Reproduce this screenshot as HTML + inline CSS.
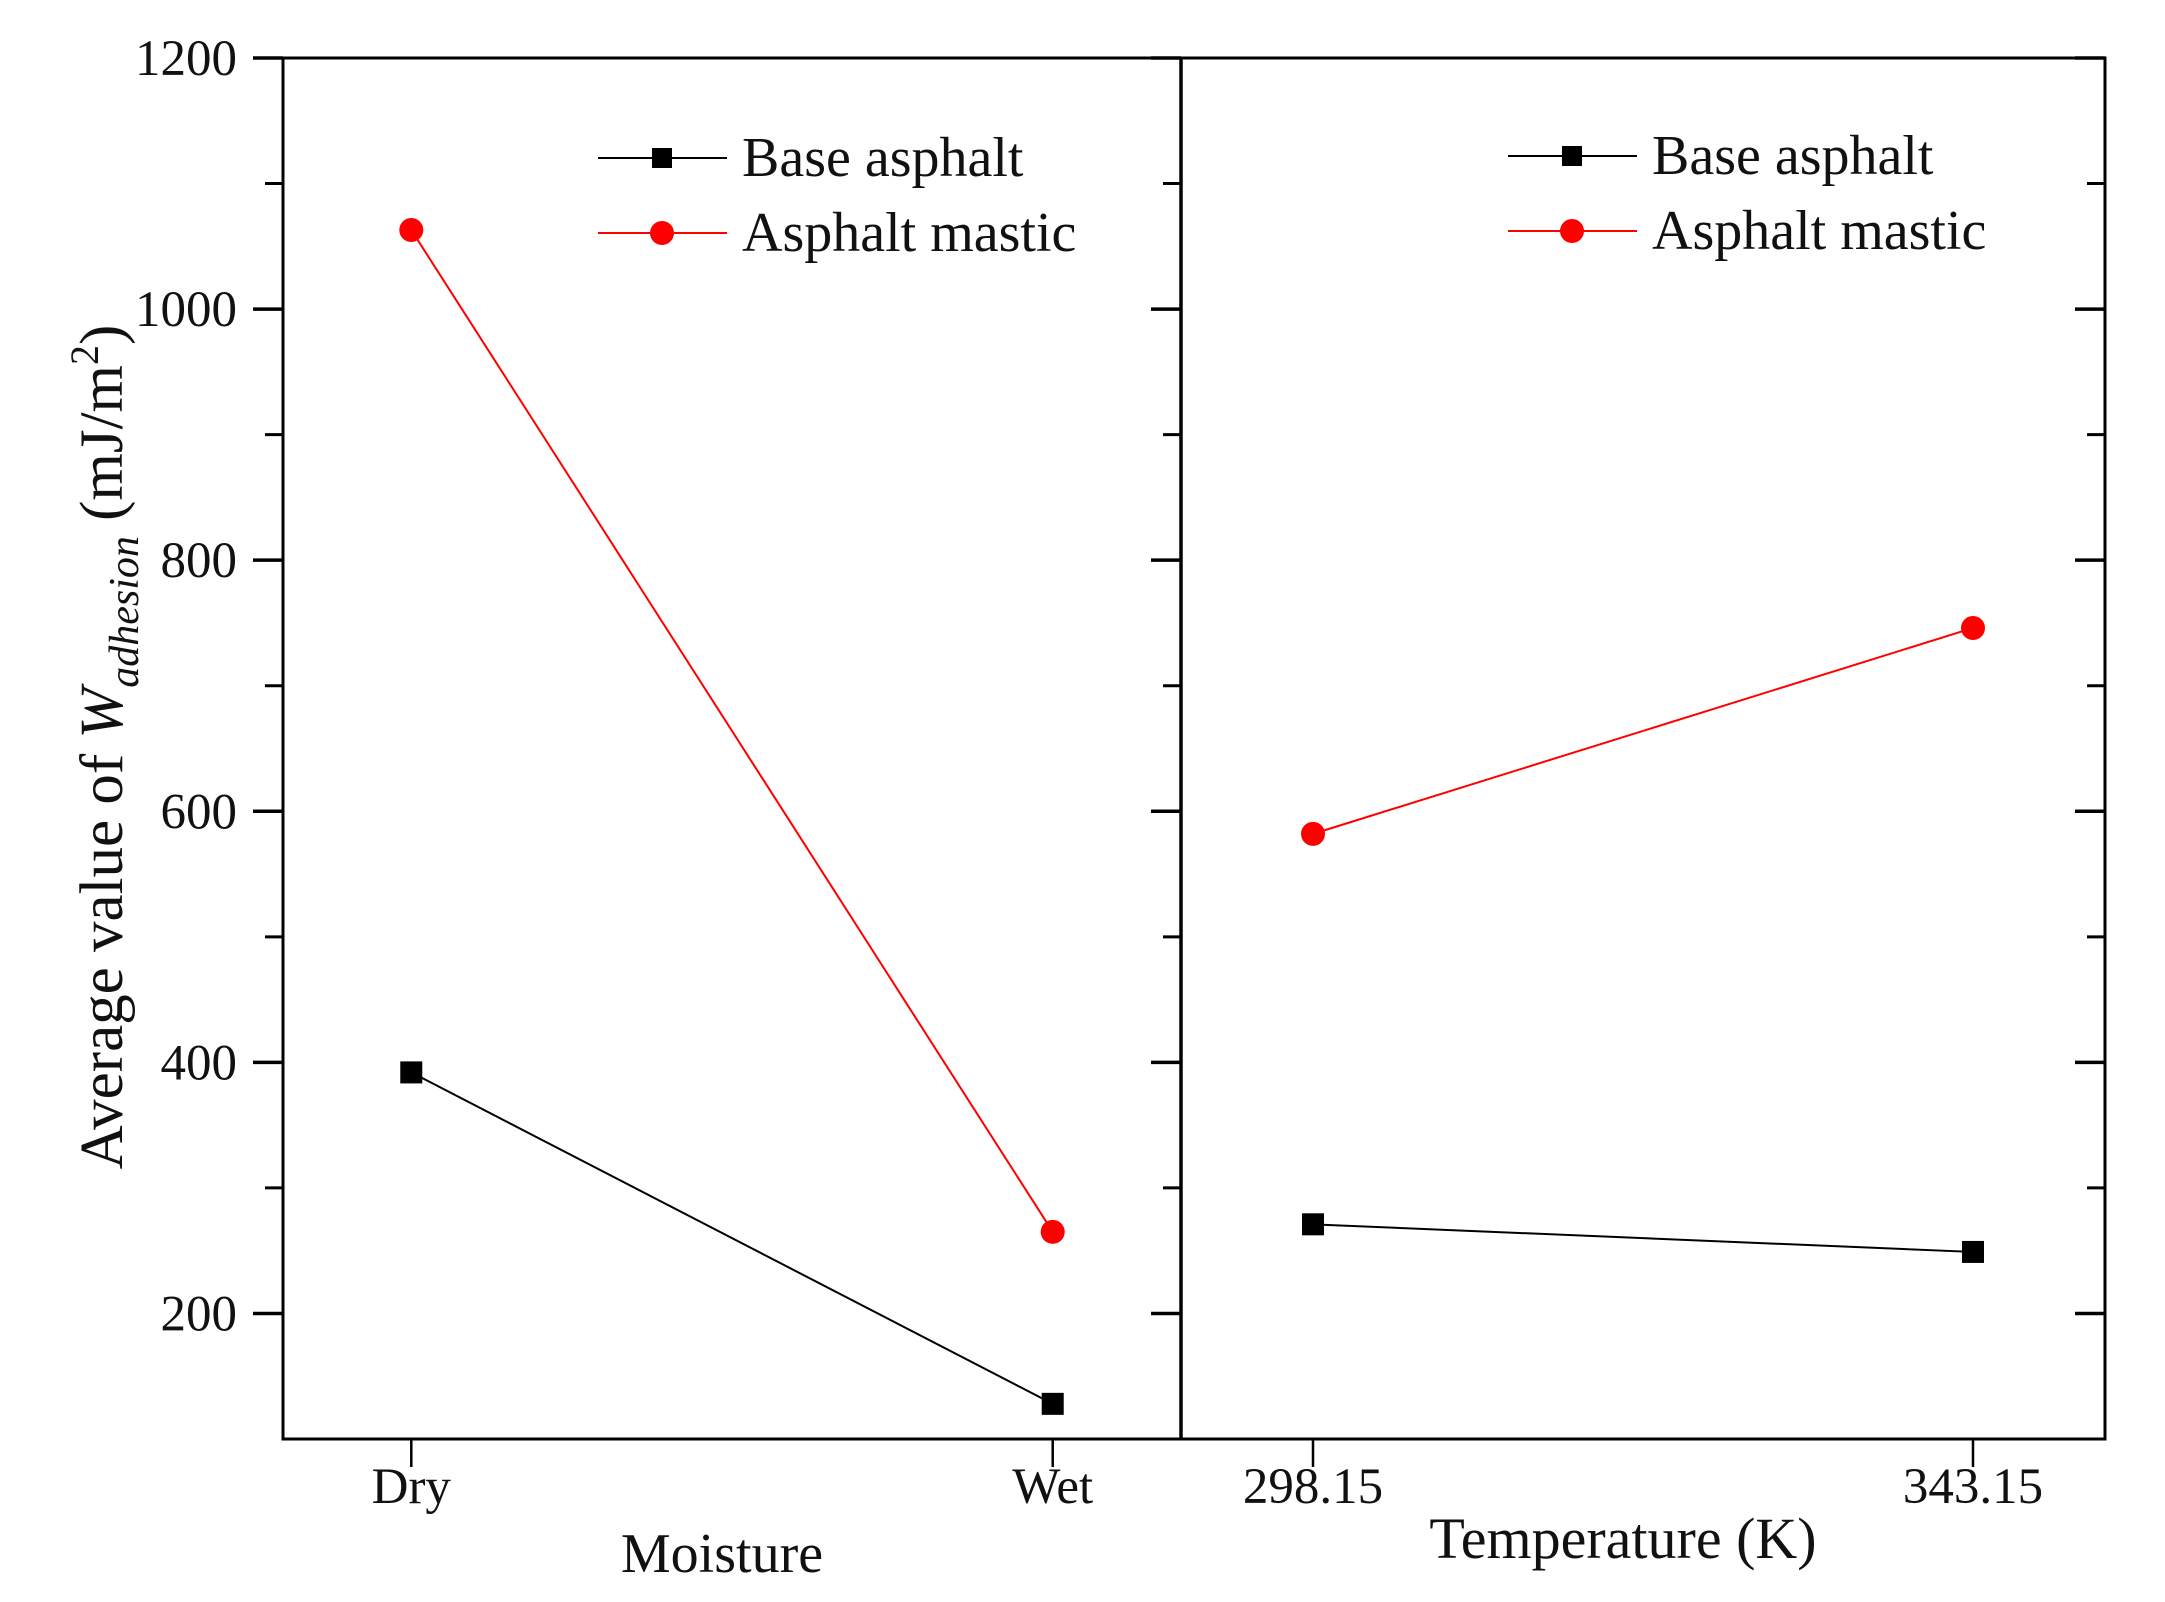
<!DOCTYPE html>
<html><head><meta charset="utf-8"><style>
html,body{margin:0;padding:0;background:#fff}
svg{display:block;font-family:"Liberation Serif",serif}
</style></head><body>
<svg id="chart" width="2165" height="1602" viewBox="0 0 2165 1602" xmlns="http://www.w3.org/2000/svg">
<g id="axes"></g>
<g id="marks"></g>
<g id="legends"></g>
<text transform="translate(122,747) rotate(-90)" text-anchor="middle" font-size="61" fill="#111">Average value of <tspan font-style="italic">W</tspan><tspan font-style="italic" font-size="42" dy="16">adhesion</tspan><tspan dy="-16"> (mJ/m</tspan><tspan font-size="40" dy="-24">2</tspan><tspan dy="24">)</tspan></text>
<text x="722" y="1572" text-anchor="middle" font-size="56" fill="#111">Moisture</text>
<text x="1623" y="1558" text-anchor="middle" font-size="58" fill="#111">Temperature (K)</text>
</svg>
<script>
const moistureCats = ["Dry", "Wet"];
const tempCats = ["298.15", "343.15"];
const baseMoisture = [392, 128];
const masticMoisture = [1063, 265];
const baseTemp = [271, 249];
const masticTemp = [582, 746];
const yTicks = [200, 400, 600, 800, 1000, 1200];
const yMinor = [300, 500, 700, 900, 1100];

const NS = "http://www.w3.org/2000/svg";
const plotTop = 58, plotBottom = 1439, yMin = 100, yMax = 1200;
const leftX = 283, divX = 1181, rightX = 2105;
const y = v => plotBottom - (v - yMin) / (yMax - yMin) * (plotBottom - plotTop);
const panels = [
  {x0: leftX, x1: divX, cats: moistureCats, base: baseMoisture, mastic: masticMoisture, name: "moisture"},
  {x0: divX, x1: rightX, cats: tempCats, base: baseTemp, mastic: masticTemp, name: "temperature"}
];
panels.forEach(p => { p.x = i => p.x0 + (i + 0.2) / 1.4 * (p.x1 - p.x0); });

function el(tag, attrs, parent) {
  const e = document.createElementNS(NS, tag);
  for (const k in attrs) e.setAttribute(k, attrs[k]);
  parent.appendChild(e);
  return e;
}
const axesG = document.getElementById("axes");
const marksG = document.getElementById("marks");
const legendsG = document.getElementById("legends");

const frame = el("rect", {x: leftX, y: plotTop, width: rightX - leftX, height: plotBottom - plotTop, fill: "none", stroke: "#000", "stroke-width": 3}, axesG);


const div = el("line", {x1: divX, x2: divX, y1: plotTop, y2: plotBottom, stroke: "#000", "stroke-width": 3.5}, axesG);



[leftX, divX, rightX].forEach(ax => {
  yTicks.forEach(v => {
    const t = el("line", {x1: ax, x2: ax - 30, y1: y(v), y2: y(v), stroke: "#000", "stroke-width": 3.5}, axesG);
    
    
  });
  yMinor.forEach(v => {
    const t = el("line", {x1: ax, x2: ax - 18, y1: y(v), y2: y(v), stroke: "#000", "stroke-width": 3}, axesG);
    
    
  });
});
yTicks.forEach(v => {
  const t = el("text", {x: 237, y: y(v) + 17, "text-anchor": "end", "font-size": 51, fill: "#111"}, axesG);
  t.textContent = v;
  
  
});
panels.forEach(p => {
  p.cats.forEach((c, i) => {
    const t = el("line", {x1: p.x(i), x2: p.x(i), y1: plotBottom, y2: plotBottom + 28, stroke: "#000", "stroke-width": 2.5}, axesG);
    
    
    const l = el("text", {x: p.x(i), y: 1503, "text-anchor": "middle", "font-size": 51, fill: "#111"}, axesG);
    l.textContent = c;
    
    
  });
});

function series(p, vals, color, shape, name) {
  const pts = vals.map((v, i) => p.x(i) + "," + y(v)).join(" ");
  const line = el("polyline", {points: pts, fill: "none", stroke: color, "stroke-width": 2}, marksG);
  
  
  vals.forEach((v, i) => {
    let m;
    if (shape === "sq") m = el("rect", {x: p.x(i) - 11, y: y(v) - 11, width: 22, height: 22, fill: color}, marksG);
    else m = el("circle", {cx: p.x(i), cy: y(v), r: 12, fill: color}, marksG);
    
    
  });
}
panels.forEach(p => {
  series(p, p.base, "#000", "sq", "base-asphalt-" + p.name);
  series(p, p.mastic, "#ff0000", "circ", "asphalt-mastic-" + p.name);
});

[[598, 158], [1508, 156]].forEach(([lx, ly]) => {
  [["Base asphalt", "#000", "sq", 0], ["Asphalt mastic", "#ff0000", "circ", 75]].forEach(([lab, col, sh, dy]) => {
    const g = el("g", {}, legendsG);
    
    
    const yy = ly + dy;
    el("line", {x1: lx, x2: lx + 129, y1: yy, y2: yy, stroke: col, "stroke-width": 2}, g);
    if (sh === "sq") el("rect", {x: lx + 54, y: yy - 10, width: 20, height: 20, fill: col}, g);
    else el("circle", {cx: lx + 64, cy: yy, r: 12, fill: col}, g);
    const t = el("text", {x: lx + 144, y: yy + 18, "font-size": 56, fill: "#111"}, g);
    t.textContent = lab;
  });
});
</script>
</body></html>
